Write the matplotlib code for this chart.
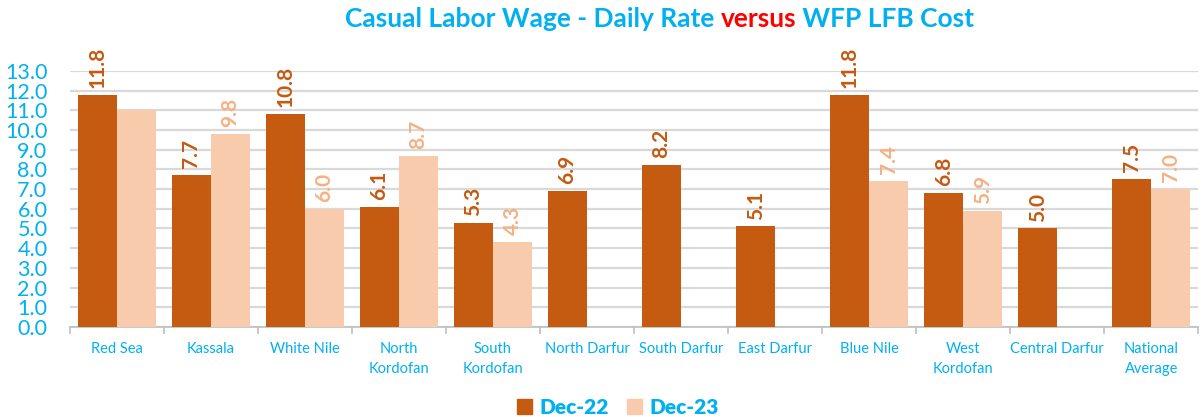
import numpy as np
import matplotlib
matplotlib.use('Agg')
import matplotlib.pyplot as plt
from matplotlib.patches import Patch

plt.rcParams['font.family'] = ['Lato', 'DejaVu Sans']

# data
regions = ['Red Sea', 'Kassala', 'White Nile', 'North\nKordofan', 'South\nKordofan',
           'North Darfur', 'South Darfur', 'East Darfur', 'Blue Nile', 'West\nKordofan',
           'Central Darfur', 'National\nAverage']
dec22 = [11.8, 7.7, 10.8, 6.1, 5.3, 6.9, 8.2, 5.1, 11.8, 6.8, 5.0, 7.5]
dec23 = [11.0, 9.8, 6.0, 8.7, 4.3, None, None, None, 7.4, 5.9, None, 7.0]
dec23_labelled = [False, True, True, True, True, False, False, False, True, True, False, True]
yticks = np.arange(0, 14, 1)

blue = '#00B0F0'
c22, c23 = '#C55A11', '#F8CBAD'
lab22, lab23 = '#C55A11', '#F4B183'

fig = plt.figure(figsize=(12.02, 4.17), dpi=100)
ax = fig.add_axes([0.058, 0.216, 0.939, 0.614])

x = np.arange(len(regions))
w = 0.415
v23 = [np.nan if v is None else v for v in dec23]
b1 = ax.bar(x - w / 2, dec22, w, color=c22, zorder=3)
b2 = ax.bar(x + w / 2, v23, w, color=c23, zorder=3)

for rect, v in zip(b1, dec22):
    ax.annotate(f'{v:.1f}', (rect.get_x() + rect.get_width() / 2, v),
                xytext=(0, 5), textcoords='offset points', rotation=90,
                ha='center', va='bottom', color=lab22, fontsize=15,
                fontweight='bold', annotation_clip=False)
for rect, v, show in zip(b2, dec23, dec23_labelled):
    if v is None or not show:
        continue
    ax.annotate(f'{v:.1f}', (rect.get_x() + rect.get_width() / 2, v),
                xytext=(0, 5), textcoords='offset points', rotation=90,
                ha='center', va='bottom', color=lab23, fontsize=15,
                fontweight='bold', annotation_clip=False)

ax.set_xlim(-0.5, len(regions) - 0.5)
ax.set_ylim(0, 13)
ax.set_yticks(yticks)
ax.set_yticklabels([f'{t:.1f}' for t in yticks], color=blue, fontsize=15.5)
ax.tick_params(axis='y', length=0, pad=16)
ax.yaxis.grid(True, color='#D9D9D9', linewidth=1.6, zorder=0)
ax.set_axisbelow(True)

# category labels at centres, tick marks at boundaries
ax.set_xticks(x)
ax.set_xticklabels(regions, color=blue, fontsize=10.5, linespacing=1.5, va='top')
ax.tick_params(axis='x', length=0, pad=11)
ax.set_xticks(np.arange(-0.5, len(regions), 1), minor=True)
ax.tick_params(axis='x', which='minor', length=5, color='#BFBFBF', width=1.2)

for s in ['top', 'right', 'left']:
    ax.spines[s].set_visible(False)
ax.spines['bottom'].set_color('#BFBFBF')
ax.spines['bottom'].set_linewidth(1.2)

# multi-colour title
t1 = fig.text(0.287, 0.935, 'Casual Labor Wage - Daily Rate ', color=blue,
              fontsize=19, fontweight='bold', va='baseline')
t2 = ax.annotate('versus', xy=(1, 0), xycoords=t1, color='#FF0000',
                 fontsize=19, fontweight='bold', va='bottom', ha='left')
t3 = ax.annotate(' WFP LFB Cost', xy=(1, 0), xycoords=t2, color=blue,
                 fontsize=19, fontweight='bold', va='bottom', ha='left')

handles = [Patch(color=c22, label='Dec-22'), Patch(color=c23, label='Dec-23')]
leg = fig.legend(handles=handles, loc='lower center', bbox_to_anchor=(0.514, -0.045),
                 ncol=2, frameon=False, handlelength=0.7, handleheight=0.7,
                 handletextpad=0.35, columnspacing=0.9,
                 prop={'size': 15, 'weight': 'heavy'})
for t in leg.get_texts():
    t.set_color(blue)

fig.savefig('out.png', dpi=100)
